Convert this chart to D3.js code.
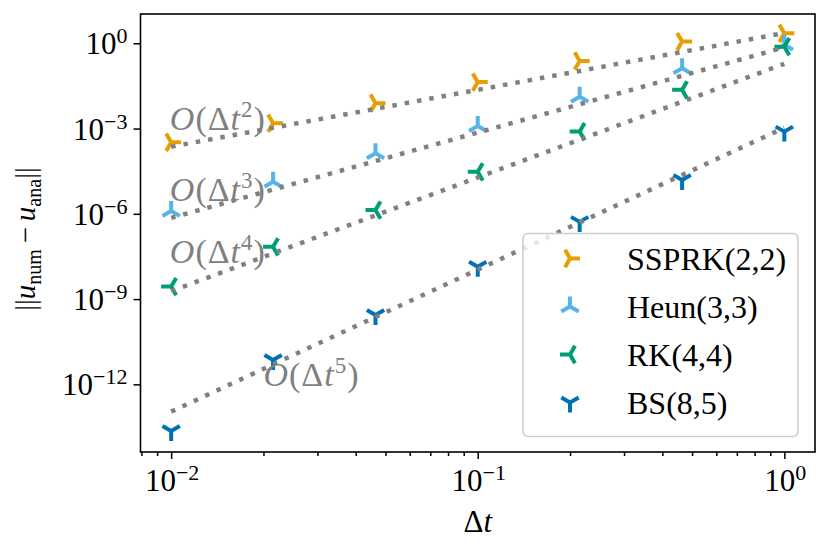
<!DOCTYPE html>
<html>
<head>
<meta charset="utf-8">
<script src="https://cdn.jsdelivr.net/npm/d3@7"></script>
<style>
  body { margin: 0; background: #fff; }
  svg { display: block; }
</style>
</head>
<body>
<svg id="chart" width="830" height="555"></svg>
<script>
// time step sizes
const dts = [0.01, 0.0215, 0.0464, 0.1, 0.215, 0.464, 1];

// error of each scheme
const errSSPRK = [3.3e-4, 1.55e-3, 7.8e-3, 4.3e-2, 0.24, 1.15, 2.24];
const errHeun = [1.26e-6, 1.35e-5, 1.35e-4, 1.23e-3, 1.32e-2, 0.132, 0.89];
const errRK = [2.75e-9, 6.9e-8, 1.35e-6, 3.0e-5, 7.8e-4, 2.3e-2, 0.76];
const errBS = [2.3e-14, 7.2e-12, 2.75e-10, 1.38e-8, 5.2e-7, 1.55e-5, 7.8e-4];

const schemes = ["SSPRK(2,2)", "Heun(3,3)", "RK(4,4)", "BS(8,5)"];
const orders = [2, 3, 4, 5];

// reference lines: value at dt = 0.01 and at dt = 1
const refLo = [2.3e-4, 7.2e-7, 1.9e-9, 1.1e-13];
const refHi = [2.3, 0.72, 0.19, 1.07e-3];

// anchor (dt, err) of the O(dt^p) labels
const labelDt = [0.0099, 0.0099, 0.0099, 0.02];
const labelErr = [8.7e-4, 2.8e-6, 1.86e-8, 8.7e-13];

const xMajor = [1e-2, 1e-1, 1];
const xMinor = [0.008, 0.009, 0.02, 0.03, 0.04, 0.05, 0.06, 0.07, 0.08, 0.09,
                0.2, 0.3, 0.4, 0.5, 0.6, 0.7, 0.8, 0.9];
const xExp = ["−2", "−1", "0"];
const yMajor = [1, 1e-3, 1e-6, 1e-9, 1e-12];
const yExp = ["0", "−3", "−6", "−9", "−12"];

const colors = ["#E69F00", "#56B4E9", "#009E73", "#0072B2"];
const markers = ["right", "up", "left", "down"];
const fontFamily = "Liberation Serif, Times New Roman, serif";

const errs = [errSSPRK, errHeun, errRK, errBS];

const plotL = 140.5, plotR = 815, plotT = 14, plotB = 452;

const x = d3.scaleLog().domain([Math.pow(10, -2.1), Math.pow(10, 0.1)]).range([plotL, plotR]);
const y = d3.scaleLog().domain([Math.pow(10, -14.38), Math.pow(10, 1.03)]).range([plotB, plotT]);

const svg = d3.select("#chart")
  .style("font-family", fontFamily);

// tri marker path, r = arm length
function triPath(dir, r) {
  const a = r * 0.866, b = r * 0.5;
  if (dir === "down") return `M0,0L0,${r}M0,0L${-a},${-b}M0,0L${a},${-b}`;
  if (dir === "up") return `M0,0L0,${-r}M0,0L${-a},${b}M0,0L${a},${b}`;
  if (dir === "left") return `M0,0L${-r},0M0,0L${b},${-a}M0,0L${b},${a}`;
  return `M0,0L${r},0M0,0L${-b},${-a}M0,0L${-b},${a}`;
}

// axes
const xAxis = svg.append("g")
  .attr("transform", `translate(0,${plotB})`)
  .call(d3.axisBottom(x).tickValues(xMajor).tickSize(7).tickSizeOuter(0).tickFormat(""));
xAxis.append("g")
  .call(d3.axisBottom(x).tickValues(xMinor).tickSize(4).tickSizeOuter(0).tickFormat(""));

const yAxis = svg.append("g")
  .attr("transform", `translate(${plotL},0)`)
  .call(d3.axisLeft(y).tickValues(yMajor).tickSize(7).tickSizeOuter(0).tickFormat(""));

svg.selectAll(".domain").remove();
svg.selectAll(".tick line").attr("stroke", "#000").attr("stroke-width", 1.5);

// tick labels with superscripts
const xLab = svg.append("g").attr("text-anchor", "middle").attr("font-size", 31);
xMajor.forEach((v, i) => {
  const t = xLab.append("text").attr("x", x(v) + 1).attr("y", plotB + 39);
  t.append("tspan").text("10");
  t.append("tspan").attr("dy", -11).attr("font-size", 22).text(xExp[i]);
});

const yLab = svg.append("g").attr("text-anchor", "end").attr("font-size", 31);
yMajor.forEach((v, i) => {
  const t = yLab.append("text").attr("x", plotL - 13).attr("y", y(v) + 11);
  t.append("tspan").text("10");
  t.append("tspan").attr("dy", -11).attr("font-size", 22).text(yExp[i]);
});

// axis labels
const xl = svg.append("text")
  .attr("x", (plotL + plotR) / 2)
  .attr("y", 532)
  .attr("text-anchor", "middle")
  .attr("font-size", 31);
xl.append("tspan").text("Δ");
xl.append("tspan").attr("font-style", "italic").text("t");

const yl = svg.append("text")
  .attr("transform", `translate(35,239) rotate(-90)`)
  .attr("text-anchor", "middle")
  .attr("font-size", 29);
yl.append("tspan").text("||");
yl.append("tspan").attr("font-style", "italic").text("u");
yl.append("tspan").attr("dy", 6).attr("font-size", 20).text("num");
yl.append("tspan").attr("dy", -6).text("\u2009−\u2009");
yl.append("tspan").attr("font-style", "italic").text("u");
yl.append("tspan").attr("dy", 6).attr("font-size", 20).text("ana");
yl.append("tspan").attr("dy", -6).text("||");

// markers
errs.forEach((e, k) => {
  svg.append("g")
    .selectAll("path")
    .data(dts.map((d, i) => [d, e[i]]))
    .join("path")
    .attr("transform", (d) => `translate(${x(d[0])},${y(d[1])})`)
    .attr("d", triPath(markers[k], 10))
    .attr("fill", "none")
    .attr("stroke", colors[k])
    .attr("stroke-width", 4);
});

// reference lines
const line = d3.line().x((d) => x(d[0])).y((d) => y(d[1]));
svg.append("g")
  .selectAll("path")
  .data(orders.map((p, k) => [[dts[0], refLo[k]], [dts[dts.length - 1], refHi[k]]]))
  .join("path")
  .attr("d", line)
  .attr("fill", "none")
  .attr("stroke", "#808080")
  .attr("stroke-width", 4.5)
  .attr("stroke-dasharray", "4.5,8");

// order labels
orders.forEach((p, k) => {
  const t = svg.append("text")
    .attr("x", x(labelDt[k]))
    .attr("y", y(labelErr[k]))
    .attr("fill", "#808080")
    .attr("font-size", 34)
    .attr("letter-spacing", 1);
  t.append("tspan").attr("font-style", "italic").text("O");
  t.append("tspan").text("(Δ");
  t.append("tspan").attr("font-style", "italic").text("t");
  t.append("tspan").attr("dy", -13).attr("font-size", 23).text(p);
  t.append("tspan").attr("dy", 13).text(")");
});

// frame
svg.append("rect")
  .attr("x", plotL).attr("y", plotT)
  .attr("width", plotR - plotL).attr("height", plotB - plotT)
  .attr("fill", "none")
  .attr("stroke", "#000")
  .attr("stroke-width", 1.6);

// legend
const lg = svg.append("g");
lg.append("rect")
  .attr("x", 523).attr("y", 233.5)
  .attr("width", 275).attr("height", 203)
  .attr("rx", 5)
  .attr("fill", "#fff")
  .attr("fill-opacity", 0.8)
  .attr("stroke", "#cccccc")
  .attr("stroke-width", 1.5);

schemes.forEach((s, k) => {
  const yy = 258.5 + k * 48;
  lg.append("path")
    .attr("transform", `translate(570,${yy})`)
    .attr("d", triPath(markers[k], 10))
    .attr("fill", "none")
    .attr("stroke", colors[k])
    .attr("stroke-width", 4);
  lg.append("text")
    .attr("x", 627)
    .attr("y", yy + 11)
    .attr("font-size", 32)
    .text(s);
});
</script>
</body>
</html>
